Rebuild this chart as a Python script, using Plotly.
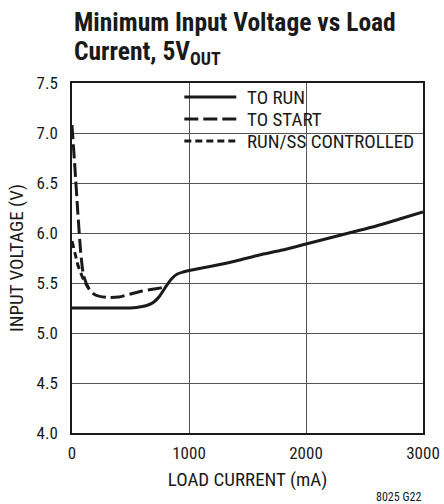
import plotly.graph_objects as go

# Data (load current mA, input voltage V)
run_x = [0, 100, 200, 300, 400, 500, 550, 600, 650, 700, 750, 800, 850, 900, 950, 1000,
         1200, 1400, 1600, 1800, 2000, 2200, 2400, 2600, 2800, 3000]
run_y = [5.25, 5.25, 5.25, 5.25, 5.25, 5.25, 5.255, 5.265, 5.28, 5.31, 5.37, 5.46, 5.54, 5.59, 5.61, 5.625,
         5.67, 5.72, 5.78, 5.83, 5.89, 5.95, 6.01, 6.07, 6.14, 6.21]

start_x = [0, 25, 50, 75, 100, 150, 200, 300, 400, 500, 600, 700, 770, 800]
start_y = [7.08, 6.65, 6.2, 5.8, 5.57, 5.43, 5.38, 5.355, 5.36, 5.39, 5.42, 5.44, 5.455, 5.47]

runss_x = [0, 25, 50, 75, 100, 150]
runss_y = [5.92, 5.80, 5.68, 5.60, 5.53, 5.43]

series_names = ["TO RUN", "TO START", "RUN/SS CONTROLLED"]
x_ticks = [0, 1000, 2000, 3000]
y_ticks = [4.0, 4.5, 5.0, 5.5, 6.0, 6.5, 7.0, 7.5]

FONT = "Roboto Condensed, Liberation Sans Narrow, Arial Narrow, sans-serif"
INK = "#1a1a1a"
dashes = ["solid", "14px,5px", "7px,4px"]

fig = go.Figure()
for name, xs, ys, dash in zip(series_names, [run_x, start_x, runss_x], [run_y, start_y, runss_y], dashes):
    fig.add_trace(go.Scatter(x=xs, y=ys, mode="lines", name=name, showlegend=False,
                             line=dict(color=INK, width=3, dash=dash, shape="spline", smoothing=0.6)))

fig.update_layout(
    width=444, height=504,
    margin=dict(l=72, r=21, t=83, b=71),
    paper_bgcolor="white", plot_bgcolor="white",
    font=dict(family=FONT, size=17, color=INK),
    showlegend=False,
    xaxis=dict(range=[0, 3000], tickvals=x_ticks, ticktext=[str(v) for v in x_ticks],
               showgrid=True, gridcolor="#555555", gridwidth=1,
               showline=True, linecolor=INK, linewidth=1.5, mirror=True,
               ticks="", ticklabelstandoff=4, zeroline=False, automargin=False,
               tickfont=dict(size=17),
               title=dict(text="LOAD CURRENT (mA)", standoff=11, font=dict(size=19))),
    yaxis=dict(range=[4.0, 7.5], tickvals=y_ticks, ticktext=[f"{v:.1f}" for v in y_ticks],
               showgrid=True, gridcolor="#555555", gridwidth=1,
               showline=True, linecolor=INK, linewidth=1.5, mirror=True,
               ticks="", ticklabelstandoff=9, zeroline=False, automargin=False,
               tickfont=dict(size=17),
               title=dict(text="INPUT VOLTAGE (V)", standoff=8, font=dict(size=19))),
)

# Title (two lines)
fig.add_annotation(text="<b>Minimum Input Voltage vs Load</b>", xref="paper", yref="paper",
                   x=0, y=1.173, xanchor="left", yanchor="middle", showarrow=False,
                   font=dict(family=FONT, size=25.5, color=INK))
fig.add_annotation(text="<b>Current, 5V<sub>OUT</sub></b>", xref="paper", yref="paper",
                   x=0, y=1.087, xanchor="left", yanchor="middle", showarrow=False,
                   font=dict(family=FONT, size=25.5, color=INK))

# Legend (drawn in the upper-right corner of the plot)
fig.add_shape(type="rect", xref="paper", yref="paper", x0=0.297, x1=0.996, y0=0.803, y1=0.996,
              fillcolor="white", line=dict(width=0), layer="between")
legend_rows = [0.96, 0.897, 0.834]
for name, dash, yy in zip(series_names, dashes, legend_rows):
    fig.add_shape(type="line", xref="paper", yref="paper", x0=0.32, x1=0.468, y0=yy, y1=yy,
                  line=dict(color=INK, width=3, dash=dash))
    fig.add_annotation(text=name, xref="paper", yref="paper", x=0.494, y=yy,
                       xanchor="left", yanchor="middle", showarrow=False,
                       font=dict(family=FONT, size=19, color=INK))

fig.add_annotation(text="8025 G22", xref="paper", yref="paper", x=1.0, y=-0.183,
                   xanchor="right", yanchor="middle", showarrow=False,
                   font=dict(family=FONT, size=12, color=INK))

fig.write_html("out.html", config={"displayModeBar": False},
               post_script="document.body.style.margin='0';")
